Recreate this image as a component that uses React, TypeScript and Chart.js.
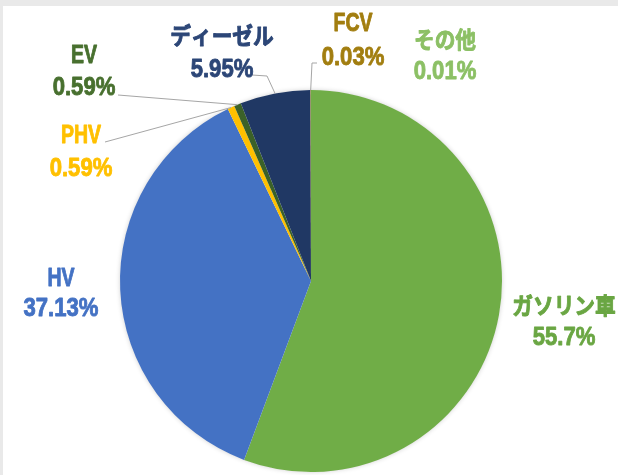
import { useEffect, useRef } from "react";
import { Chart, registerables } from "chart.js";

Chart.register(...registerables);

// ---- data ----
const categories = ["ガソリン車", "HV", "PHV", "EV", "ディーゼル", "FCV", "その他"];
const shares = [55.7, 37.13, 0.59, 0.59, 5.95, 0.03, 0.01];
const valueLabels = ["55.7%", "37.13%", "0.59%", "0.59%", "5.95%", "0.03%", "0.01%"];

// ---- styles ----
const sliceColors = ["#70AD47", "#4472C4", "#FFC000", "#3B6128", "#203864", "#BF9000", "#A9D18E"];
const textColors = ["#6AA643", "#4472C4", "#FFC000", "#48702F", "#2C4677", "#A27E10", "#8CC065"];

// ---- label layout: [centerX, line1 centerY, line2 centerY] ----
const labelLayout: number[][] = [
  [564, 305, 336],
  [61, 277, 307],
  [81, 134, 167],
  [84, 54, 86],
  [222, 35, 68],
  [353, 22, 56],
  [445, 39, 70],
];
// leader line starting points (polyline before reaching the slice edge)
const leaderLayout: (number[][] | null)[] = [
  null,
  null,
  [[105, 142]],
  [[118, 95]],
  [[252, 75], [267, 76]],
  [[317, 63], [312, 63]],
  null,
];

function drawLabelText(ctx: CanvasRenderingContext2D, text: string, cx: number, cy: number, color: string) {
  const isCJK = /[\u3000-\u9fff]/.test(text);
  const hasDigit = /[0-9]/.test(text);
  let size: number, scale: number, off: number, family: string;
  if (isCJK) {
    size = 23; scale = 0.9; off = 0.38 * size; family = '"Noto Sans CJK JP", "Liberation Sans", sans-serif';
  } else if (hasDigit) {
    size = 26; scale = 0.85; off = 0.358 * size; family = '"Liberation Sans", "Noto Sans CJK JP", sans-serif';
  } else {
    size = 26; scale = 0.75; off = 0.358 * size; family = '"Liberation Sans", "Noto Sans CJK JP", sans-serif';
  }
  ctx.save();
  ctx.translate(cx, cy + off);
  ctx.scale(scale, 1);
  ctx.font = `bold ${size}px ${family}`;
  ctx.fillStyle = color;
  ctx.strokeStyle = color;
  ctx.lineWidth = 0.9;
  ctx.lineJoin = "round";
  ctx.textAlign = "center";
  ctx.textBaseline = "alphabetic";
  ctx.fillText(text, 0, 0);
  ctx.strokeText(text, 0, 0);
  ctx.restore();
}

const backgroundPlugin = {
  id: "bgPlugin",
  beforeDraw(chart: any) {
    const ctx = chart.ctx as CanvasRenderingContext2D;
    ctx.save();
    ctx.fillStyle = "#ffffff";
    ctx.fillRect(0, 0, chart.width, chart.height);
    ctx.fillStyle = "#E9E9E9";
    ctx.fillRect(0, 0, chart.width, 6);
    ctx.fillRect(0, 0, 3, chart.height);
    ctx.restore();
  },
  beforeDatasetsDraw(chart: any) {
    const meta = chart.getDatasetMeta(0);
    const arc = meta.data[0];
    if (!arc) return;
    const p = arc.getProps(["x", "y", "outerRadius"], true);
    const ctx = chart.ctx as CanvasRenderingContext2D;
    ctx.save();
    ctx.shadowColor = "rgba(0,0,0,0.22)";
    ctx.shadowBlur = 5;
    ctx.fillStyle = "#ffffff";
    ctx.beginPath();
    ctx.arc(p.x, p.y, p.outerRadius - 0.5, 0, Math.PI * 2);
    ctx.fill();
    ctx.restore();
  },
};

const labelPlugin = {
  id: "labelPlugin",
  afterDatasetsDraw(chart: any) {
    const ctx = chart.ctx as CanvasRenderingContext2D;
    const meta = chart.getDatasetMeta(0);
    meta.data.forEach((arc: any, i: number) => {
      const p = arc.getProps(["x", "y", "startAngle", "endAngle", "outerRadius"], true);
      const mid = (p.startAngle + p.endAngle) / 2;
      const ex = p.x + Math.cos(mid) * p.outerRadius;
      const ey = p.y + Math.sin(mid) * p.outerRadius;
      const pts = leaderLayout[i];
      if (pts) {
        ctx.save();
        ctx.strokeStyle = "#A6A6A6";
        ctx.lineWidth = 1;
        ctx.beginPath();
        ctx.moveTo(pts[0][0], pts[0][1]);
        for (let k = 1; k < pts.length; k++) ctx.lineTo(pts[k][0], pts[k][1]);
        ctx.lineTo(ex, ey);
        ctx.stroke();
        ctx.restore();
      }
      const [cx, y1, y2] = labelLayout[i];
      drawLabelText(ctx, categories[i], cx, y1, textColors[i]);
      drawLabelText(ctx, valueLabels[i], cx, y2, textColors[i]);
    });
  },
};

export default function App() {
  const canvasRef = useRef<HTMLCanvasElement | null>(null);

  useEffect(() => {
    if (!canvasRef.current) return;
    const chart = new Chart(canvasRef.current, {
      type: "pie",
      data: {
        labels: categories,
        datasets: [
          {
            data: shares,
            backgroundColor: sliceColors,
            borderWidth: 0,
          },
        ],
      },
      options: {
        responsive: false,
        animation: false,
        layout: { padding: { left: 120, right: 116, top: 90, bottom: 3 } },
        plugins: {
          legend: { display: false },
          tooltip: { enabled: false },
        },
      },
      plugins: [backgroundPlugin, labelPlugin],
    });
    return () => chart.destroy();
  }, []);

  return (
    <div style={{ position: "fixed", left: 0, top: 0, width: 618, height: 475, background: "#fff" }}>
      <canvas ref={canvasRef} width={618} height={475} style={{ display: "block", width: 618, height: 475 }} />
    </div>
  );
}
